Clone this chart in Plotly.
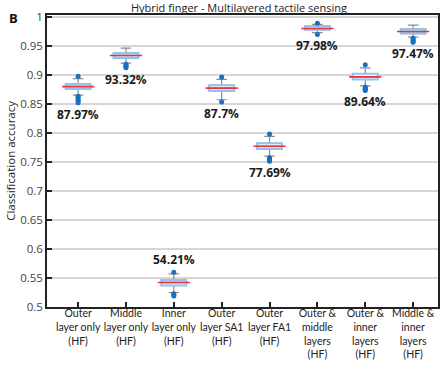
import plotly.graph_objects as go

categories = ["Outer<br>layer only<br>(HF)", "Middle<br>layer only<br>(HF)", "Inner<br>layer only<br>(HF)",
              "Outer<br>layer SA1<br>(HF)", "Outer<br>layer FA1<br>(HF)", "Outer &<br>middle<br>layers<br>(HF)",
              "Outer &<br>inner<br>layers<br>(HF)", "Middle &<br>inner<br>layers<br>(HF)"]
median = [0.8797, 0.9332, 0.5421, 0.8770, 0.7769, 0.9798, 0.8964, 0.9747]
q1 = [0.8755, 0.9290, 0.5370, 0.8720, 0.7720, 0.9777, 0.8920, 0.9710]
q3 = [0.8840, 0.9375, 0.5464, 0.8820, 0.7820, 0.9840, 0.9020, 0.9790]
lower_whisker = [0.8650, 0.9200, 0.5250, 0.8570, 0.7600, 0.9725, 0.8810, 0.9650]
upper_whisker = [0.8935, 0.9460, 0.5570, 0.8920, 0.7940, 0.9870, 0.9120, 0.9856]
outliers = [
    [0.8974, 0.8630, 0.8600, 0.8570, 0.8550, 0.8520],
    [0.9180, 0.9160, 0.9140, 0.9120],
    [0.5600, 0.5230, 0.5210, 0.5190],
    [0.8960, 0.8530],
    [0.7980, 0.7570, 0.7550, 0.7530, 0.7510],
    [0.9890, 0.9696],
    [0.9175, 0.8790, 0.8770, 0.8750, 0.8730],
    [0.9630, 0.9600, 0.9580, 0.9560],
]
labels = ["87.97%", "93.32%", "54.21%", "87.7%", "77.69%", "97.98%", "89.64%", "97.47%"]
label_above = [False, False, True, False, False, False, False, False]

title = "Hybrid finger - Multilayered tactile sensing"
y_title = "Classification accuracy"
y_ticks = [0.5, 0.55, 0.6, 0.65, 0.7, 0.75, 0.8, 0.85, 0.9, 0.95, 1.0]
y_ticktext = ["0.5", "0.55", "0.6", "0.65", "0.7", "0.75", "0.8", "0.85", "0.9", "0.95", "1"]

FONT = "Open Sans"
TICKFONT = "Lato"
fig = go.Figure()

# whiskers (gray) with caps
fig.add_trace(go.Box(
    x=categories, q1=q1, median=median, q3=q3,
    lowerfence=lower_whisker, upperfence=upper_whisker,
    line=dict(color="#8a8a8a", width=1.2), fillcolor="rgba(0,0,0,0)",
    whiskerwidth=0.42, width=0.52, boxpoints=False, hoverinfo="skip", showlegend=False,
))
# box body (light blue outline)
fig.add_trace(go.Box(
    x=categories, q1=q1, median=median, q3=q3,
    lowerfence=q1, upperfence=q3,
    line=dict(color="#8ec5ec", width=2), fillcolor="#f0f7fc",
    whiskerwidth=0, width=0.52, boxpoints=False, hoverinfo="skip", showlegend=False,
))
# red medians
fig.add_trace(go.Scatter(
    x=categories, y=median, mode="markers",
    marker=dict(symbol="line-ew", size=23, line=dict(color="#f0303a", width=1.6)),
    hoverinfo="skip", showlegend=False,
))
# outliers
ox, oy = [], []
for c, vals in zip(categories, outliers):
    for v in vals:
        ox.append(c)
        oy.append(v)
fig.add_trace(go.Scatter(
    x=ox, y=oy, mode="markers",
    marker=dict(color="#1a6fbf", size=5),
    hoverinfo="skip", showlegend=False,
))

for c, lab, above, vals, lw, uw in zip(categories, labels, label_above, outliers, lower_whisker, upper_whisker):
    if above:
        yv = max([uw] + vals)
        fig.add_annotation(x=c, y=yv, text="<b>" + lab + "</b>", showarrow=False,
                           yanchor="bottom", yshift=2, font=dict(family=FONT, size=12, color="#1a1a1a"))
    else:
        yv = min([lw] + vals)
        fig.add_annotation(x=c, y=yv, text="<b>" + lab + "</b>", showarrow=False,
                           yanchor="top", yshift=-1, font=dict(family=FONT, size=12, color="#1a1a1a"))

fig.add_annotation(x=0.49, y=1.0, xref="paper", yref="paper", yanchor="middle", yshift=8,
                   text=title, showarrow=False, font=dict(family=FONT, size=11, color="#222"))
fig.add_annotation(x=-0.085, y=1.0, xref="paper", yref="paper", xanchor="center", yanchor="middle",
                   yshift=-3, text="<b>B</b>", showarrow=False, font=dict(family=FONT, size=13, color="#111"))
fig.add_annotation(x=-0.095, y=0.5, xref="paper", yref="paper", xanchor="center", yanchor="middle",
                   textangle=-90, text=y_title, showarrow=False,
                   font=dict(family=FONT, size=11.5, color="#222"))

fig.update_layout(
    width=444, height=369,
    margin=dict(l=47, r=6, t=15, b=62),
    paper_bgcolor="white", plot_bgcolor="white",
    boxmode="overlay",
    font=dict(family=FONT, color="#333"),
    xaxis=dict(
        type="category", categoryorder="array", categoryarray=categories,
        range=[-0.65, 7.52], showgrid=False, zeroline=False, automargin=False,
        showline=True, linecolor="#222", linewidth=1.5, mirror=True,
        ticks="inside", ticklen=5, tickwidth=1.5, tickcolor="#222", tickangle=0,
        ticklabelstandoff=-4,
        tickfont=dict(family=TICKFONT, size=10.5, color="#222"),
    ),
    yaxis=dict(
        range=[0.5, 1.003], tickvals=y_ticks, ticktext=y_ticktext, automargin=False,
        showgrid=True, gridcolor="#d6d6d6", gridwidth=1.5, zeroline=False,
        showline=True, linecolor="#222", linewidth=1.5, mirror=True,
        ticks="inside", ticklen=5, tickwidth=1.5, tickcolor="#222",
        tickfont=dict(family=FONT, size=11.5, color="#444"),
    ),
)

fig.write_html("out.html", config={"displayModeBar": False},
               post_script="document.body.style.margin='0';document.body.style.overflow='hidden';")
